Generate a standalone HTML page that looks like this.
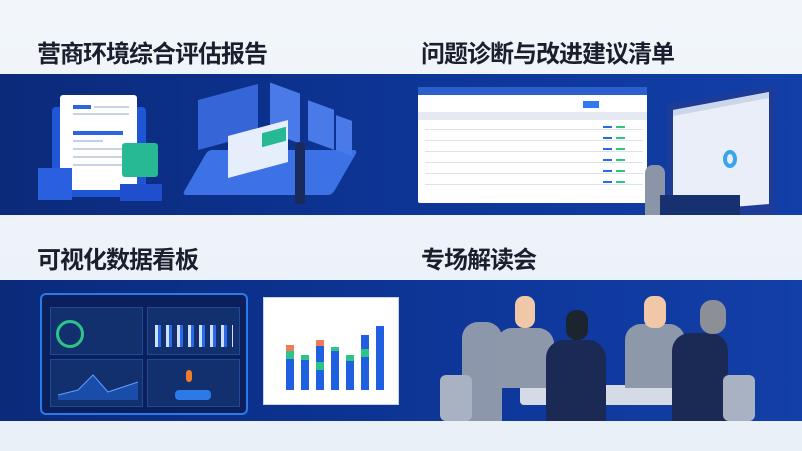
<!DOCTYPE html>
<html><head><meta charset="utf-8"><style>
*{margin:0;padding:0;box-sizing:border-box}
body{width:802px;height:451px;overflow:hidden;background:linear-gradient(180deg,#f2f6fb,#e9f0f8);position:relative;font-family:"Liberation Sans","Noto Sans CJK SC",sans-serif}
.a{position:absolute}
.t{position:absolute;font-size:24px;font-weight:bold;color:#1a1f2e;letter-spacing:-1px}
.band{position:absolute;left:0;width:802px;background:linear-gradient(90deg,#0b2a7a,#0d3596 50%,#123fa8)}
.w{background:#fff}
.ln{position:absolute;height:2px;background:#c9d2e0}
</style></head><body>
<div class="t" style="left:37px;top:34px">营商环境综合评估报告</div>
<div class="t" style="left:421px;top:34px">问题诊断与改进建议清单</div>
<div class="t" style="left:37px;top:240px">可视化数据看板</div>
<div class="t" style="left:421px;top:240px">专场解读会</div>

<div class="band" style="top:74px;height:141px"></div>
<div class="band" style="top:280px;height:141px"></div>

<!-- report illustration -->
<div class="a" style="left:52px;top:107px;width:94px;height:90px;background:#1f56d6;border-radius:4px"></div>
<div class="a w" style="left:60px;top:95px;width:77px;height:95px;border-radius:3px"></div>
<div class="a" style="left:73px;top:105px;width:18px;height:4px;background:#2b66e0"></div>
<div class="ln" style="left:94px;top:106px;width:35px"></div>
<div class="ln" style="left:73px;top:113px;width:56px"></div>
<div class="a" style="left:73px;top:131px;width:50px;height:4px;background:#2b66e0"></div>
<div class="ln" style="left:73px;top:140px;width:30px;background:#bcd0f0"></div>
<div class="ln" style="left:73px;top:148px;width:56px"></div>
<div class="ln" style="left:73px;top:156px;width:56px"></div>
<div class="ln" style="left:73px;top:164px;width:50px"></div>
<div class="a" style="left:38px;top:168px;width:34px;height:32px;background:#2a5fe0"></div>
<div class="a" style="left:122px;top:143px;width:36px;height:34px;background:#27b894;border-radius:3px"></div>
<div class="a" style="left:120px;top:184px;width:42px;height:17px;background:#1f4fcc"></div>

<!-- isometric platform -->
<div class="a" style="left:195px;top:150px;width:150px;height:45px;background:#3c72e6;transform:skewX(-30deg);border-radius:4px"></div>
<div class="a" style="left:198px;top:92px;width:60px;height:50px;background:#3565d6;transform:skewY(-15deg)"></div>
<div class="a" style="left:270px;top:88px;width:30px;height:50px;background:#4a7ae8;transform:skewY(20deg)"></div>
<div class="a" style="left:308px;top:105px;width:26px;height:40px;background:#4a7ae8;transform:skewY(20deg)"></div>
<div class="a" style="left:336px;top:118px;width:16px;height:35px;background:#4a7ae8;transform:skewY(20deg)"></div>
<div class="a" style="left:228px;top:128px;width:60px;height:42px;background:#e6eefc;transform:skewY(-15deg)"></div>
<div class="a" style="left:262px;top:130px;width:24px;height:14px;background:#27b894;transform:skewY(-15deg)"></div>
<div class="a" style="left:295px;top:142px;width:10px;height:62px;background:#1b2a5c;border-radius:4px 4px 0 0"></div>

<!-- table -->
<div class="a w" style="left:418px;top:87px;width:229px;height:116px;border-radius:2px"></div>
<div class="a" style="left:418px;top:87px;width:229px;height:8px;background:#2d5fcc"></div>
<div class="a" style="left:418px;top:112px;width:229px;height:8px;background:#e4e9f2"></div>
<div class="a" style="left:583px;top:101px;width:16px;height:7px;background:#2f7af0"></div>
<div class="ln" style="left:425px;top:129px;width:218px;height:1px;background:#dde3ec"></div>
<div class="ln" style="left:425px;top:140px;width:218px;height:1px;background:#dde3ec"></div>
<div class="ln" style="left:425px;top:151px;width:218px;height:1px;background:#dde3ec"></div>
<div class="ln" style="left:425px;top:162px;width:218px;height:1px;background:#dde3ec"></div>
<div class="ln" style="left:425px;top:173px;width:218px;height:1px;background:#dde3ec"></div>
<div class="ln" style="left:425px;top:184px;width:218px;height:1px;background:#dde3ec"></div>
<div class="a" style="left:603px;top:126px;width:9px;height:60px;background:repeating-linear-gradient(180deg,#2b6ae6 0 2px,transparent 2px 11px)"></div>
<div class="a" style="left:616px;top:126px;width:9px;height:60px;background:repeating-linear-gradient(180deg,#2dc48a 0 2px,transparent 2px 11px)"></div>
<!-- monitor -->
<svg class="a" style="left:655px;top:84px" width="125" height="131"><polygon points="12,20 120,2 120,131 12,131" fill="#1c3c98"/><polygon points="18,26 114,8 114,120 18,128" fill="#e9eef8"/><polygon points="18,26 114,8 114,14 18,32" fill="#cbd6ea"/></svg>
<div class="a" style="left:723px;top:150px;width:14px;height:18px;border-radius:50%;border:4px solid #3aa6e8"></div>
<div class="a" style="left:645px;top:165px;width:20px;height:50px;background:#8a96a8;border-radius:8px 8px 0 0"></div>
<div class="a" style="left:660px;top:195px;width:80px;height:20px;background:#17306f"></div>

<!-- dashboard -->
<div class="a" style="left:40px;top:293px;width:208px;height:122px;background:#0b1f5c;border:2px solid #2b7ae8;border-radius:6px"></div>
<div class="a" style="left:50px;top:307px;width:93px;height:48px;background:#12306e;border:1px solid #1f4a96"></div>
<div class="a" style="left:147px;top:307px;width:93px;height:48px;background:#12306e;border:1px solid #1f4a96"></div>
<div class="a" style="left:50px;top:359px;width:93px;height:48px;background:#12306e;border:1px solid #1f4a96"></div>
<div class="a" style="left:147px;top:359px;width:93px;height:48px;background:#12306e;border:1px solid #1f4a96"></div>
<div class="a" style="left:56px;top:320px;width:28px;height:28px;border-radius:50%;border:3px solid #2dc48a"></div>
<div class="a" style="left:155px;top:325px;width:78px;height:22px;background:repeating-linear-gradient(90deg,#cfe0ff 0 3px,#2b6ae6 3px 6px,transparent 6px 11px)"></div>
<svg class="a" style="left:58px;top:370px" width="80" height="30"><path d="M0 25 L20 20 L35 5 L50 22 L80 12 L80 30 L0 30Z" fill="#1f5fd0" opacity=".6"/><path d="M0 25 L20 20 L35 5 L50 22 L80 12" stroke="#5fa0ff" fill="none"/></svg>
<div class="a" style="left:175px;top:390px;width:36px;height:10px;background:#2b7ae8;border-radius:4px"></div>
<div class="a" style="left:186px;top:370px;width:6px;height:12px;background:#f07a2a;border-radius:3px"></div>
<!-- chart -->
<div class="a w" style="left:263px;top:297px;width:136px;height:108px;border:1px solid #c8d2e4"></div>
<div class="a" style="left:286px;top:345px;width:8px;height:45px;background:linear-gradient(180deg,#f07a5a 0 6px,#2dc48a 6px 14px,#1f5fe0 14px)"></div>
<div class="a" style="left:301px;top:355px;width:8px;height:35px;background:linear-gradient(180deg,#2dc48a 0 5px,#1f5fe0 5px)"></div>
<div class="a" style="left:316px;top:340px;width:8px;height:50px;background:linear-gradient(180deg,#f07a5a 0 6px,#1f5fe0 6px 22px,#2dc48a 22px 30px,#1f5fe0 30px)"></div>
<div class="a" style="left:331px;top:347px;width:8px;height:43px;background:linear-gradient(180deg,#2dc48a 0 4px,#1f5fe0 4px)"></div>
<div class="a" style="left:346px;top:355px;width:8px;height:35px;background:linear-gradient(180deg,#2dc48a 0 6px,#1f5fe0 6px)"></div>
<div class="a" style="left:361px;top:335px;width:8px;height:55px;background:linear-gradient(180deg,#1f5fe0 0 14px,#2dc48a 14px 22px,#1f5fe0 22px)"></div>
<div class="a" style="left:376px;top:326px;width:8px;height:64px;background:#1f5fe0"></div>

<!-- meeting -->
<div class="a" style="left:520px;top:385px;width:170px;height:20px;background:#d5dbe6;border-radius:4px"></div>
<div class="a" style="left:462px;top:322px;width:40px;height:99px;background:#8c97ab;border-radius:16px 16px 0 0"></div>
<div class="a" style="left:496px;top:328px;width:58px;height:60px;background:#8d98aa;border-radius:16px 16px 0 0"></div>
<div class="a" style="left:515px;top:296px;width:20px;height:32px;background:#f0c8a8;border-radius:9px"></div>
<div class="a" style="left:546px;top:340px;width:60px;height:81px;background:#1b2a55;border-radius:18px 18px 0 0"></div>
<div class="a" style="left:566px;top:310px;width:22px;height:30px;background:#1c2430;border-radius:10px"></div>
<div class="a" style="left:625px;top:324px;width:60px;height:64px;background:#8d98aa;border-radius:16px 16px 0 0"></div>
<div class="a" style="left:644px;top:296px;width:22px;height:32px;background:#f0c8a8;border-radius:9px"></div>
<div class="a" style="left:672px;top:333px;width:56px;height:88px;background:#1b2a55;border-radius:18px 18px 0 0"></div>
<div class="a" style="left:700px;top:300px;width:26px;height:34px;background:#8d8f96;border-radius:12px"></div>
<div class="a" style="left:440px;top:375px;width:32px;height:46px;background:#a8b2c2;border-radius:6px"></div>
<div class="a" style="left:723px;top:375px;width:32px;height:46px;background:#a8b2c2;border-radius:6px"></div>
</body></html>
